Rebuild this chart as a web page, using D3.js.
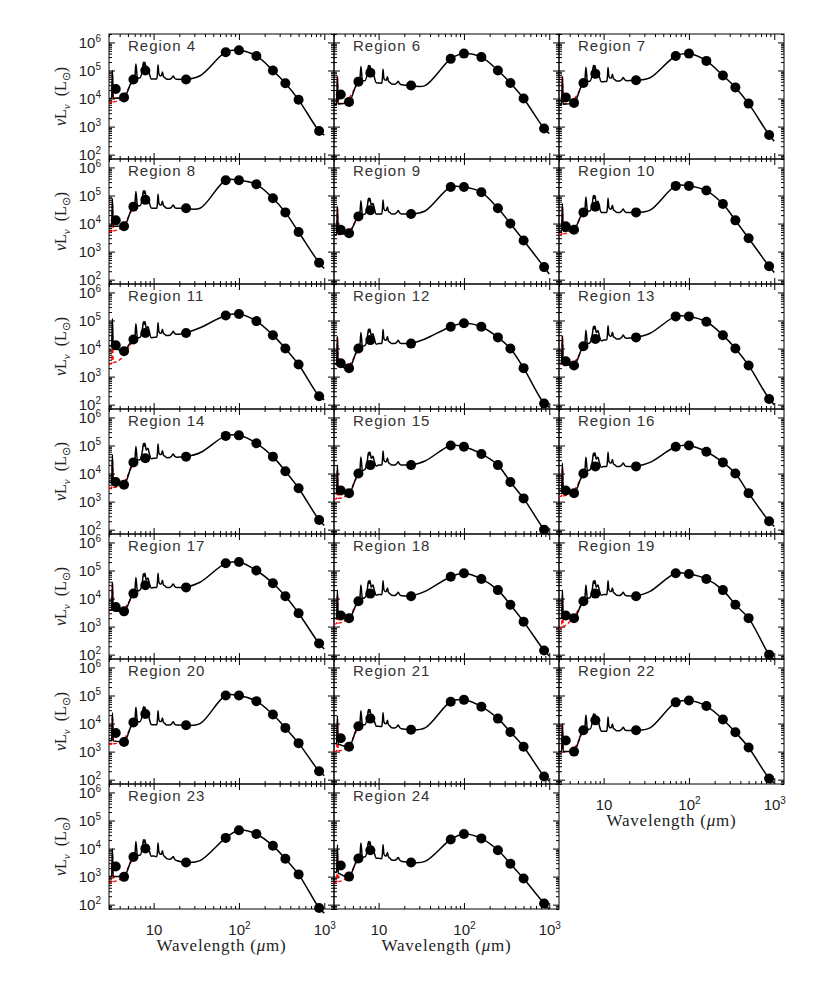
<!DOCTYPE html>
<html>
<head>
<meta charset="utf-8">
<script src="https://cdn.jsdelivr.net/npm/d3@7"></script>
<style>
  body { margin: 0; background: #fff; }
</style>
</head>
<body>
<script>
// ---- data ----
const regions = ["Region 4", "Region 6", "Region 7", "Region 8", "Region 9", "Region 10",
  "Region 11", "Region 12", "Region 13", "Region 14", "Region 15", "Region 16",
  "Region 17", "Region 18", "Region 19", "Region 20", "Region 21", "Region 22",
  "Region 23", "Region 24"];

// photometric bands (micron)
const bands = [3.6, 4.5, 5.8, 8.0, 24, 70, 100, 160, 250, 350, 500, 870];

// nuLnu (Lsun) in each band, one row per region
const photometry = [
  [2.2e4, 1.1e4, 4.8e4, 1.0e5, 4.8e4, 4.5e5, 5.3e5, 3.3e5, 1.0e5, 3.5e4, 9.0e3, 7.0e2],
  [1.4e4, 7.6e3, 4.0e4, 8.3e4, 2.9e4, 2.6e5, 4.0e5, 3.0e5, 1.0e5, 3.6e4, 1.0e4, 8.5e2],
  [1.1e4, 7.0e3, 3.6e4, 7.6e4, 4.5e4, 3.3e5, 4.0e5, 2.2e5, 6.6e4, 2.5e4, 6.6e3, 5.0e2],
  [1.3e4, 8.0e3, 4.0e4, 7.0e4, 3.5e4, 3.5e5, 3.5e5, 2.5e5, 8.0e4, 2.5e4, 5.0e3, 4.0e2],
  [6.0e3, 4.5e3, 1.8e4, 3.0e4, 2.2e4, 2.0e5, 2.0e5, 1.3e5, 3.5e4, 1.0e4, 2.5e3, 2.8e2],
  [8.0e3, 6.0e3, 2.5e4, 4.0e4, 2.5e4, 2.2e5, 2.2e5, 1.5e5, 5.0e4, 1.3e4, 3.0e3, 3.0e2],
  [1.3e4, 8.0e3, 2.1e4, 3.6e4, 3.6e4, 1.5e5, 1.7e5, 9.5e4, 3.0e4, 1.0e4, 2.7e3, 2.0e2],
  [3.0e3, 2.0e3, 1.0e4, 2.0e4, 1.5e4, 6.0e4, 8.0e4, 6.0e4, 2.5e4, 1.0e4, 2.0e3, 1.1e2],
  [3.5e3, 2.5e3, 1.2e4, 2.2e4, 2.5e4, 1.4e5, 1.4e5, 9.0e4, 3.0e4, 1.0e4, 2.5e3, 1.6e2],
  [5.0e3, 4.0e3, 2.5e4, 3.5e4, 4.0e4, 2.2e5, 2.3e5, 1.2e5, 4.0e4, 1.2e4, 3.0e3, 2.2e2],
  [2.5e3, 2.0e3, 1.0e4, 2.0e4, 2.0e4, 1.0e5, 9.0e4, 5.0e4, 2.0e4, 5.0e3, 1.3e3, 1.0e2],
  [2.5e3, 2.0e3, 1.0e4, 1.8e4, 1.8e4, 9.0e4, 1.0e5, 6.0e4, 2.5e4, 1.0e4, 2.0e3, 2.0e2],
  [5.0e3, 3.5e3, 1.5e4, 3.0e4, 2.5e4, 1.8e5, 2.0e5, 1.0e5, 3.5e4, 1.2e4, 3.0e3, 2.5e2],
  [2.5e3, 2.0e3, 8.0e3, 1.5e4, 1.2e4, 6.0e4, 8.0e4, 5.0e4, 2.0e4, 6.0e3, 1.5e3, 1.4e2],
  [2.5e3, 2.0e3, 8.0e3, 1.5e4, 1.2e4, 8.0e4, 7.5e4, 5.0e4, 2.0e4, 6.0e3, 2.0e3, 1.0e2],
  [4.6e3, 2.2e3, 1.1e4, 2.2e4, 8.7e3, 1.0e5, 1.0e5, 6.3e4, 2.1e4, 7.0e3, 2.0e3, 2.0e2],
  [3.0e3, 1.5e3, 8.0e3, 1.5e4, 6.0e3, 6.0e4, 7.0e4, 4.0e4, 1.5e4, 5.0e3, 1.5e3, 1.3e2],
  [2.5e3, 1.0e3, 5.8e3, 1.3e4, 5.8e3, 5.7e4, 6.6e4, 4.2e4, 1.4e4, 4.9e3, 1.4e3, 1.1e2],
  [2.3e3, 9.8e2, 5.0e3, 1.0e4, 3.2e3, 2.4e4, 4.5e4, 3.3e4, 1.25e4, 4.3e3, 1.2e3, 7.6e1],
  [2.5e3, 1.0e3, 4.4e3, 8.7e3, 3.2e3, 2.1e4, 3.3e4, 2.3e4, 8.7e3, 2.9e3, 8.5e2, 1.1e2]
];

// model continuum where it leaves the photometry: 3.0, 4.5, 10, 35, 1000 micron
const modelWave = [3.0, 4.5, 10, 35, 1000];
const modelCont = [
  [1.0e4, 1.1e4, 5.0e4, 6.5e4, 5.0e2],
  [6.0e3, 7.5e3, 3.6e4, 2.9e4, 5.6e2],
  [6.0e3, 7.0e3, 4.0e4, 5.5e4, 3.0e2],
  [8.0e3, 8.0e3, 3.5e4, 3.5e4, 2.5e2],
  [4.0e3, 4.5e3, 2.2e4, 2.8e4, 1.6e2],
  [5.0e3, 6.0e3, 2.5e4, 3.0e4, 1.8e2],
  [1.3e4, 8.5e3, 2.5e4, 5.5e4, 1.5e2],
  [3.0e3, 2.0e3, 1.5e4, 2.2e4, 8.0e1],
  [3.0e3, 2.5e3, 2.0e4, 3.5e4, 1.0e2],
  [5.0e3, 4.0e3, 3.5e4, 5.5e4, 1.4e2],
  [2.0e3, 2.0e3, 2.0e4, 2.8e4, 6.5e1],
  [2.5e3, 2.0e3, 1.8e4, 2.5e4, 1.3e2],
  [4.0e3, 3.5e3, 2.5e4, 3.8e4, 1.6e2],
  [2.0e3, 2.0e3, 1.4e4, 1.8e4, 9.0e1],
  [2.0e3, 2.0e3, 1.4e4, 1.8e4, 6.5e1],
  [2.5e3, 2.2e3, 9.0e3, 1.0e4, 1.4e2],
  [2.0e3, 1.5e3, 8.0e3, 7.0e3, 9.0e1],
  [1.0e3, 1.0e3, 5.3e3, 7.0e3, 7.5e1],
  [1.0e3, 1.0e3, 5.4e3, 3.7e3, 5.0e1],
  [1.5e3, 1.0e3, 4.5e3, 3.5e3, 7.0e1]
];

// red dashed model at 3.0 and 4.0 micron (joins the black one at 5.8)
const redWave = [3.0, 4.0];
const redCont = [
  [7.0e3, 9.0e3], [6.0e3, 7.5e3], [6.0e3, 7.0e3], [5.0e3, 6.5e3], [4.0e3, 4.2e3],
  [4.0e3, 5.0e3], [2.7e3, 4.0e3], [3.0e3, 2.0e3], [3.0e3, 2.5e3], [3.0e3, 3.5e3],
  [1.2e3, 1.5e3], [1.5e3, 1.8e3], [4.0e3, 3.5e3], [1.2e3, 1.6e3], [8.0e2, 1.5e3],
  [1.8e3, 2.1e3], [1.0e3, 1.2e3], [1.0e3, 1.0e3], [6.0e2, 8.0e2], [6.0e2, 8.0e2]
];

// PAH band template: wavelength (micron) and height above continuum (dex)
const pahWave = [3.22, 3.29, 3.36,
  6.0, 6.2, 6.45,
  6.9, 7.4, 7.6, 7.75, 7.9, 8.2, 8.6, 8.9, 9.4,
  10.9, 11.1, 11.27, 11.5, 11.9, 12.3, 12.7, 13.0, 13.6, 14.2,
  15.5, 16.4, 17.0, 17.6, 18.5];
const pahDex = [0, 1.0, 0,
  0, 0.55, 0.05,
  0.05, 0.35, 0.6, 0.5, 0.6, 0.35, 0.4, 0.2, 0,
  0, 0.2, 0.5, 0.2, 0.12, 0.12, 0.25, 0.1, 0.05, 0,
  0, 0.06, 0.12, 0.04, 0];

const xLabelTicks = [10, 100, 1000];
const yLabelTicks = [1e2, 1e3, 1e4, 1e5, 1e6];

// ---- layout ----
const left0 = 109, top0 = 34, pw = 225, ph = 125;

const svg = d3.select("body").append("svg")
  .attr("width", 817).attr("height", 981)
  .attr("font-family", "Liberation Sans, sans-serif");

const x = d3.scaleLog().domain([3, 1300]).range([0, pw]);
const y = d3.scaleLog().domain([70, 2e6]).range([ph, 0]);

const isDecade = v => Math.abs(Math.log10(v) - Math.round(Math.log10(v))) < 1e-6;
const xMinor = x.ticks().filter(v => !isDecade(v));
const yMinor = y.ticks().filter(v => !isDecade(v));
const yMajor = y.ticks().filter(isDecade);

// PAH part drawn monotone, dust hump drawn with a smooth spline
const lineMid = d3.line()
  .x(d => x(d[0]))
  .y(d => y(Math.pow(10, d[1])))
  .curve(d3.curveMonotoneX);
const lineFar = d3.line()
  .x(d => x(d[0]))
  .y(d => y(Math.pow(10, d[1])))
  .curve(d3.curveCatmullRom.alpha(0.5));

function withPah(knots, lo, hi) {
  const cont = d3.scaleLinear()
    .domain(knots.map(k => Math.log10(k[0])))
    .range(knots.map(k => Math.log10(k[1])));
  const pts = knots.map(k => [k[0], Math.log10(k[1])]);
  pahWave.forEach((w, j) => {
    if (w > lo && w < hi) pts.push([w, cont(Math.log10(w)) + pahDex[j]]);
  });
  return pts.sort((a, b) => a[0] - b[0]);
}

function powerLabel(sel, hideTen) {
  sel.selectAll(".tick text").text(null).each(function(d) {
    const t = d3.select(this);
    const e = Math.round(Math.log10(d));
    t.append("tspan").text("10");
    if (!(hideTen && e === 1)) {
      t.append("tspan").attr("dy", -6).attr("font-size", 10).text(e);
    }
  });
}

regions.forEach((name, i) => {
  const col = i % 3, row = Math.floor(i / 3);
  const g = svg.append("g")
    .attr("transform", "translate(" + (left0 + col * pw) + "," + (top0 + row * ph) + ")");
  const p = photometry[i];
  const m = modelCont[i];

  // ticks, all pointing inward
  [[d3.axisBottom(x), xLabelTicks, 6, ph], [d3.axisBottom(x), xMinor, 3, ph],
   [d3.axisTop(x), xLabelTicks, 6, 0], [d3.axisTop(x), xMinor, 3, 0]]
    .forEach(([ax, vals, len, off]) => {
      g.append("g").attr("transform", "translate(0," + off + ")")
        .call(ax.tickValues(vals).tickSizeInner(-len).tickSizeOuter(0).tickFormat(""))
        .call(s => s.select(".domain").remove());
    });
  [[d3.axisLeft(y), yMajor, 6, 0], [d3.axisLeft(y), yMinor, 3, 0],
   [d3.axisRight(y), yMajor, 6, pw], [d3.axisRight(y), yMinor, 3, pw]]
    .forEach(([ax, vals, len, off]) => {
      g.append("g").attr("transform", "translate(" + off + ",0)")
        .call(ax.tickValues(vals).tickSizeInner(-len).tickSizeOuter(0).tickFormat(""))
        .call(s => s.select(".domain").remove());
    });
  g.selectAll(".tick line").attr("stroke", "#000");

  g.append("rect").attr("width", pw).attr("height", ph)
    .attr("fill", "none").attr("stroke", "#000").attr("stroke-width", 1);

  // red dashed model (short wavelengths)
  const redKnots = redWave.map((w, j) => [w, redCont[i][j]]).concat([[5.8, p[2]]]);
  g.append("path").datum(withPah(redKnots, 3.0, 5.8))
    .attr("d", lineMid).attr("fill", "none")
    .attr("stroke", "#f00").attr("stroke-width", 1.4).attr("stroke-dasharray", "4,2.5");

  // black model
  const knots = [
    [modelWave[0], m[0]], [modelWave[1], m[1]], [bands[2], p[2]], [modelWave[2], m[2]],
    [bands[4], p[4]], [modelWave[3], m[3]]
  ].concat(bands.slice(5).map((b, j) => [b, p[5 + j]])).concat([[modelWave[4], m[4]]]);
  const model = withPah(knots, 3.0, 1000);
  g.append("path").datum(model.filter(d => d[0] <= 24))
    .attr("d", lineMid).attr("fill", "none")
    .attr("stroke", "#000").attr("stroke-width", 1.5);
  g.append("path").datum(model.filter(d => d[0] >= 24))
    .attr("d", lineFar).attr("fill", "none")
    .attr("stroke", "#000").attr("stroke-width", 1.5);

  // photometry
  g.selectAll("circle").data(bands).enter().append("circle")
    .attr("cx", d => x(d))
    .attr("cy", (d, j) => y(p[j]))
    .attr("r", 5).attr("fill", "#000");

  g.append("text").attr("x", 19).attr("y", 17)
    .attr("font-size", 15).attr("letter-spacing", 1).attr("fill", "#333")
    .text(name);

  // y labels on the left column
  if (col === 0) {
    g.append("g")
      .call(d3.axisLeft(y).tickValues(yLabelTicks).tickSize(0).tickPadding(8))
      .call(s => s.select(".domain").remove())
      .call(s => s.selectAll("text").attr("font-size", 15).attr("fill", "#222")
        .attr("font-family", "Liberation Sans"))
      .call(s => powerLabel(s, false));
    const t = g.append("text")
      .attr("transform", "translate(-43," + (ph / 2) + ") rotate(-90)")
      .attr("text-anchor", "middle").attr("font-size", 16)
      .attr("font-family", "Liberation Serif").attr("fill", "#222");
    t.append("tspan").attr("font-style", "italic").text("\u03bd");
    t.append("tspan").text("L");
    t.append("tspan").attr("font-style", "italic").attr("font-size", 11).attr("dy", 4).text("\u03bd");
    t.append("tspan").attr("dy", -4).text("\u2002(L");
    t.append("tspan").attr("font-size", 11).attr("dy", 4).text("\u2299");
    t.append("tspan").attr("dy", -4).text(")");
  }

  // x labels under the last panel of each column
  if (i + 3 >= regions.length) {
    g.append("g").attr("transform", "translate(0," + ph + ")")
      .call(d3.axisBottom(x).tickValues(xLabelTicks).tickSize(0).tickPadding(15))
      .call(s => s.select(".domain").remove())
      .call(s => s.selectAll("text").attr("font-size", 15).attr("fill", "#222")
        .attr("font-family", "Liberation Sans"))
      .call(s => powerLabel(s, true));
    const t = g.append("text").attr("x", pw / 2).attr("y", ph + 42)
      .attr("text-anchor", "middle").attr("font-size", 17).attr("letter-spacing", 0.8)
      .attr("font-family", "Liberation Serif").attr("fill", "#222");
    t.append("tspan").text("Wavelength (");
    t.append("tspan").attr("font-style", "italic").text("\u03bc");
    t.append("tspan").text("m)");
  }
});
</script>
</body>
</html>
